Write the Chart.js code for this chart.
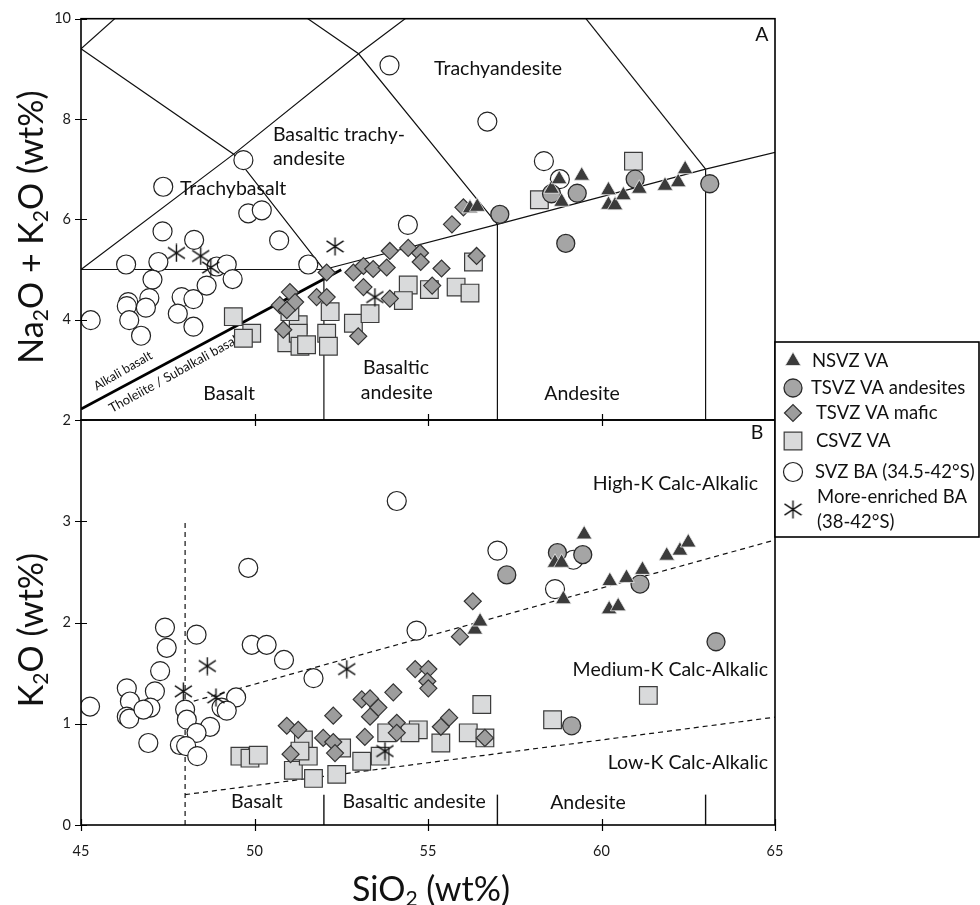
<!DOCTYPE html>
<html>
<head>
<meta charset="utf-8">
<title>SVZ volcanic rocks: TAS and K2O vs SiO2</title>
<script src="https://cdn.jsdelivr.net/npm/chart.js@4.4.1/dist/chart.umd.min.js"></script>
<style>
  html, body { margin: 0; background: #fff; }
  #fig { position: relative; width: 980px; height: 905px; font-family: Lato, "Open Sans", sans-serif; color: #111; overflow: hidden; }
  #fig canvas { position: absolute; left: 0; top: 0; }
  .axis-title { position: absolute; white-space: nowrap; font-size: 34px; line-height: 1; transform: translate(-50%, -50%); }
  .axis-title.vert { transform: translate(-50%, -50%) rotate(-90deg); }
  .axis-title sub { font-size: 62%; vertical-align: -0.25em; line-height: 0; }
</style>
</head>
<body>
<div id="fig">
  <canvas id="tas" width="980" height="905"></canvas>
  <canvas id="k2o" width="980" height="905"></canvas>
  <div class="axis-title vert" style="left:30px; top:227px">Na<sub>2</sub>O + K<sub>2</sub>O (wt%)</div>
  <div class="axis-title vert" style="left:30px; top:630px">K<sub>2</sub>O (wt%)</div>
  <div class="axis-title" style="left:431px; top:888px">SiO<sub>2</sub> (wt%)</div>
</div>
<script>
// axes
const SIO2_TICKS = [45, 50, 55, 60, 65];
const TAS_TICKS = [2, 4, 6, 8, 10];
const K2O_TICKS = [0, 1, 2, 3];

// legend entries (second line for the last one)
const seriesLabels = [
  ['NSVZ VA'],
  ['TSVZ VA andesites'],
  ['TSVZ VA mafic'],
  ['CSVZ VA'],
  ['SVZ BA (34.5-42°S)'],
  ['More-enriched BA', '(38-42°S)']
];

// [SiO2, Na2O+K2O] and [SiO2, K2O], wt%
const nsvzTAS = [[56.21,6.22],[56.42,6.25],[58.56,6.61],[58.78,6.80],[58.85,6.35],[59.43,6.87],[60.20,6.58],
  [60.20,6.29],[60.39,6.28],[60.63,6.48],[61.09,6.61],[61.83,6.67],[62.21,6.74],[62.41,7.00]];
const nsvzK2O = [[56.35,1.93],[56.50,2.01],[58.66,2.59],[58.85,2.59],[58.90,2.23],[59.50,2.87],[60.22,2.13],
  [60.48,2.16],[60.24,2.41],[60.72,2.44],[61.18,2.52],[61.88,2.66],[62.26,2.71],[62.50,2.79]];

const tsvzAndTAS = [[57.07,6.10],[58.56,6.51],[58.97,5.52],[59.30,6.52],[60.97,6.80],[63.12,6.71]];
const tsvzAndK2O = [[57.27,2.47],[58.73,2.69],[59.46,2.67],[61.11,2.38],[63.30,1.81],[59.14,0.98]];

const tsvzMafTAS = [[56.02,6.24],[55.69,5.90],[54.43,5.43],[54.77,5.33],[54.79,5.15],[55.39,5.02],[56.40,5.27],
  [55.12,4.68],[52.08,4.94],[52.85,4.94],[53.14,5.07],[53.42,5.01],[53.81,5.04],[53.90,5.37],[53.14,4.65],
  [53.90,4.42],[51.79,4.45],[52.08,4.45],[50.73,4.29],[51.02,4.55],[51.17,4.35],[50.93,4.19],[50.83,3.80],[52.99,3.67]];
const tsvzMafK2O = [[56.29,2.21],[55.92,1.86],[54.63,1.54],[55.01,1.54],[54.98,1.42],[55.01,1.35],[55.61,1.06],
  [55.37,0.97],[56.64,0.86],[54.00,1.31],[53.09,1.24],[53.33,1.25],[53.57,1.16],[53.33,1.07],[52.27,1.08],
  [54.10,1.01],[54.10,0.91],[53.18,0.87],[50.93,0.98],[51.26,0.94],[51.98,0.86],[52.27,0.82],[52.32,0.71],[51.04,0.70]];

const csvzTAS = [[60.92,7.16],[58.21,6.39],[56.31,5.15],[54.43,4.69],[55.04,4.60],[55.81,4.65],[56.21,4.53],
  [54.29,4.38],[49.39,4.06],[49.92,3.73],[49.68,3.63],[50.93,3.54],[51.26,3.90],[51.26,3.73],[51.31,3.47],
  [51.50,3.50],[52.18,4.16],[52.08,3.73],[52.13,3.47],[52.85,3.93],[53.33,4.12],[51.02,4.16]];
const csvzK2O = [[56.55,1.19],[61.35,1.28],[58.59,1.04],[54.72,0.94],[54.48,0.91],[55.37,0.81],[56.16,0.91],
  [56.64,0.86],[49.58,0.68],[49.87,0.66],[50.11,0.69],[51.12,0.54],[51.41,0.84],[51.55,0.68],[51.70,0.46],
  [52.37,0.50],[52.51,0.76],[53.09,0.63],[53.62,0.68],[53.81,0.91],[51.31,0.73]];

const svzBaTAS = [[53.89,9.07],[56.71,7.95],[58.34,7.16],[58.80,6.80],[49.68,7.18],[47.37,6.65],[49.82,6.12],
  [50.21,6.18],[54.42,5.89],[47.35,5.76],[48.26,5.59],[50.71,5.58],[46.30,5.10],[47.23,5.15],[48.91,5.06],
  [49.20,5.10],[49.37,4.81],[51.55,5.10],[47.06,4.80],[46.36,4.35],[46.32,4.27],[46.97,4.43],[46.87,4.24],
  [47.90,4.45],[48.24,4.41],[47.79,4.12],[48.62,4.68],[46.39,3.99],[45.28,3.99],[46.73,3.68],[48.24,3.86]];
const svzBaK2O = [[54.10,3.20],[49.82,2.54],[47.42,1.95],[48.33,1.88],[54.67,1.92],[57.00,2.71],[59.19,2.62],
  [58.66,2.33],[47.47,1.75],[49.92,1.78],[50.35,1.78],[50.85,1.63],[47.28,1.52],[51.70,1.45],[46.32,1.35],
  [47.13,1.32],[46.41,1.22],[47.00,1.16],[45.26,1.17],[46.32,1.07],[46.39,1.05],[46.80,1.14],[48.00,1.14],
  [48.05,1.04],[49.47,1.26],[49.05,1.16],[49.20,1.13],[48.72,0.97],[48.33,0.91],[47.85,0.79],[48.03,0.78],
  [46.94,0.81],[48.35,0.68]];

const enrichedTAS = [[47.75,5.33],[48.45,5.27],[48.74,5.04],[52.32,5.46],[53.47,4.45]];
const enrichedK2O = [[47.95,1.32],[48.64,1.57],[48.89,1.26],[52.66,1.54],[53.76,0.73]];

// TAS field boundaries (Le Bas et al.) and alkaline / subalkaline divide
const tasBoundaries = [
  [[45,9.4],[49.4,7.3],[52,5]],
  [[45,5],[49.4,7.3],[53,9.3],[57.6,11.7]],
  [[45,9.4],[48.4,11.5]],
  [[48.4,11.5],[53,9.3],[57,5.9]],
  [[45,5],[52,5],[52,2]],
  [[52,5],[57,5.9],[63,7],[69,8]],
  [[57,5.9],[57,2]],
  [[63,7],[63,2]],
  [[63,7],[57.6,11.7]]
];
const alkalineDivide = [[45,2.22],[52.5,4.995]];

// K2O series divides
const highKDivide = [[48,1.2],[65,2.815]];
const lowKDivide = [[48,0.3],[65,1.065]];
const basaltCutoff = [[48,0],[48,3]];
const rockTypeTicks = [[[52,0],[52,0.3]], [[57,0],[57,0.3]], [[63,0],[63,0.3]]];

const tasFieldLabels = [
  { text: 'A', x: 64.62, y: 9.69 },
  { text: 'Trachyandesite', x: 57.02, y: 9.0 },
  { text: 'Basaltic trachy-', x: 50.53, y: 7.69, align: 'left' },
  { text: 'andesite', x: 50.53, y: 7.20, align: 'left' },
  { text: 'Trachybasalt', x: 47.85, y: 6.61, align: 'left' },
  { text: 'Basalt', x: 49.27, y: 2.53 },
  { text: 'Basaltic', x: 54.08, y: 3.04 },
  { text: 'andesite', x: 54.10, y: 2.55 },
  { text: 'Andesite', x: 59.44, y: 2.53 },
  { text: 'Alkali basalt', x: 46.21, y: 2.98, size: 12.5, rot: -30 },
  { text: 'Tholeiite / Subalkali basalt', x: 45.89, y: 2.14, size: 13, rot: -29, align: 'left', baseline: 'alphabetic' }
];
const k2oFieldLabels = [
  { text: 'B', x: 64.48, y: 3.87 },
  { text: 'High-K Calc-Alkalic', x: 64.51, y: 3.37, align: 'right' },
  { text: 'Medium-K Calc-Alkalic', x: 64.80, y: 1.53, align: 'right' },
  { text: 'Low-K Calc-Alkalic', x: 64.80, y: 0.62, align: 'right' },
  { text: 'Basalt', x: 50.07, y: 0.23 },
  { text: 'Basaltic andesite', x: 54.6, y: 0.23 },
  { text: 'Andesite', x: 59.61, y: 0.22 }
];

function asteriskMark(size) {
  const c = document.createElement('canvas');
  c.width = c.height = size;
  const g = c.getContext('2d');
  const h = size / 2;
  g.strokeStyle = '#111';
  g.lineWidth = 1.4;
  g.beginPath();
  g.moveTo(h, 0.5); g.lineTo(h, size - 0.5);
  g.moveTo(1, h - 0.3 * size); g.lineTo(size - 1, h + 0.3 * size);
  g.moveTo(1, h + 0.3 * size); g.lineTo(size - 1, h - 0.3 * size);
  g.stroke();
  return c;
}

const markerStyles = [
  { pointStyle: 'triangle', radius: 9, fill: '#3b3b3b', stroke: '#ececec', width: 0.8 },
  { pointStyle: 'circle', radius: 9, fill: '#a5a5a5', stroke: '#2b2b2b', width: 1.3 },
  { pointStyle: 'rectRot', radius: 8.5, fill: '#9d9d9d', stroke: '#333333', width: 1.2 },
  { pointStyle: 'rect', radius: 12.5, fill: '#d9dadb', stroke: '#3c3c3c', width: 1.2 },
  { pointStyle: 'circle', radius: 9.5, fill: '#ffffff', stroke: '#222222', width: 1.2 },
  { pointStyle: asteriskMark(19), radius: 9, fill: 'rgba(0,0,0,0)', stroke: '#111', width: 0 }
];

const toPoints = arr => arr.map(([x, y]) => ({ x, y }));

function seriesDatasets(panel) {
  return panel.map((rows, i) => {
    const m = markerStyles[i];
    return {
      label: seriesLabels[i].join(' '),
      data: toPoints(rows),
      pointStyle: m.pointStyle,
      pointRadius: m.radius,
      pointBackgroundColor: m.fill,
      pointBorderColor: m.stroke,
      pointBorderWidth: m.width,
      backgroundColor: m.fill,
      borderColor: m.stroke,
      order: i === 5 ? -1 : 0
    };
  });
}

function lineDataset(rows, extra) {
  return Object.assign({
    data: toPoints(rows),
    showLine: true,
    pointRadius: 0,
    borderColor: '#111',
    borderWidth: 1.2,
    fill: false,
    order: 10
  }, extra || {});
}

// frame, crossing tick marks and field names
const panelDecor = {
  id: 'panelDecor',
  beforeDatasetsDraw(chart, args, opts) {
    const { ctx } = chart;
    const xs = chart.scales.x, ys = chart.scales.y;
    ctx.save();
    ctx.fillStyle = '#111';
    opts.labels.forEach(l => {
      ctx.save();
      ctx.font = (l.size || 19.5) + 'px Lato';
      ctx.textAlign = l.align || 'center';
      ctx.textBaseline = l.baseline || 'middle';
      ctx.translate(xs.getPixelForValue(l.x), ys.getPixelForValue(l.y));
      if (l.rot) ctx.rotate(l.rot * Math.PI / 180);
      ctx.fillText(l.text, 0, 0);
      ctx.restore();
    });
    ctx.restore();
  },
  afterDraw(chart, args, opts) {
    const { ctx, chartArea: a } = chart;
    const xs = chart.scales.x, ys = chart.scales.y;
    ctx.save();
    ctx.strokeStyle = '#000';
    ctx.lineWidth = 1.6;
    ctx.strokeRect(a.left, a.top, a.right - a.left, a.bottom - a.top);
    ctx.lineWidth = 1.2;
    ctx.beginPath();
    opts.xTicks.forEach(v => {
      const px = Math.round(xs.getPixelForValue(v)) + 0.5;
      ctx.moveTo(px, a.bottom - 6); ctx.lineTo(px, a.bottom + 6);
    });
    opts.yTicks.forEach(v => {
      const py = Math.round(ys.getPixelForValue(v)) + 0.5;
      ctx.moveTo(a.left - 6, py); ctx.lineTo(a.left + 6, py);
    });
    ctx.stroke();
    ctx.restore();
  }
};

// boxed key to the right of the lower panel
const sideLegend = {
  id: 'sideLegend',
  afterDraw(chart, args, opts) {
    const { ctx, chartArea: a } = chart;
    const left = a.right, top = opts.top, w = chart.width - a.right, h = opts.height;
    ctx.save();
    ctx.fillStyle = '#fff';
    ctx.fillRect(left, top, w, h);
    ctx.strokeStyle = '#000';
    ctx.lineWidth = 1.6;
    ctx.strokeRect(left, top, w - 1, h);
    ctx.font = opts.fontSize + 'px Lato';
    ctx.textBaseline = 'middle';
    ctx.textAlign = 'left';
    chart.data.datasets.slice(0, seriesLabels.length).forEach((ds, i) => {
      const m = markerStyles[i];
      const lines = seriesLabels[i];
      const y0 = top + opts.rows[i];
      const symY = y0 + (lines.length - 1) * opts.lineGap / 2;
      ctx.fillStyle = m.fill;
      ctx.strokeStyle = m.stroke;
      ctx.lineWidth = m.width;
      Chart.helpers.drawPoint(ctx, { pointStyle: m.pointStyle, radius: m.radius, borderWidth: m.width, rotation: 0 }, left + opts.symbolX, symY);
      ctx.fillStyle = '#111';
      const maxW = w - opts.textX[i] - 5;
      lines.forEach((t, k) => ctx.fillText(t, left + opts.textX[i], y0 + k * opts.lineGap, maxW));
    });
    ctx.restore();
  }
};

const tickFont = { family: 'Lato', size: 14.5 };

function yScale(min, max, ticks) {
  return {
    type: 'linear', min, max,
    afterBuildTicks: s => { s.ticks = ticks.map(v => ({ value: v })); },
    afterFit: s => { s.width = 30; },
    grid: { display: false, drawTicks: false },
    border: { display: false },
    ticks: { padding: 10, color: '#1a1a1a', font: tickFont }
  };
}

new Chart(document.getElementById('tas'), {
  type: 'scatter',
  data: {
    datasets: [
      ...seriesDatasets([nsvzTAS, tsvzAndTAS, tsvzMafTAS, csvzTAS, svzBaTAS, enrichedTAS]),
      ...tasBoundaries.map(b => lineDataset(b)),
      lineDataset(alkalineDivide, { borderWidth: 2.8, borderColor: '#000' })
    ]
  },
  options: {
    responsive: false, animation: false, events: [],
    layout: { padding: { left: 51, right: 205, top: 12, bottom: 485 } },
    plugins: {
      legend: { display: false }, tooltip: { enabled: false },
      panelDecor: { labels: tasFieldLabels, xTicks: [50, 55, 60], yTicks: TAS_TICKS }
    },
    scales: {
      x: { type: 'linear', min: 45, max: 65, display: false },
      y: yScale(2, 10, TAS_TICKS)
    }
  },
  plugins: [panelDecor]
});

new Chart(document.getElementById('k2o'), {
  type: 'scatter',
  data: {
    datasets: [
      ...seriesDatasets([nsvzK2O, tsvzAndK2O, tsvzMafK2O, csvzK2O, svzBaK2O, enrichedK2O]),
      lineDataset(highKDivide, { borderDash: [5, 4] }),
      lineDataset(lowKDivide, { borderDash: [5, 4] }),
      lineDataset(basaltCutoff, { borderDash: [5, 4] }),
      ...rockTypeTicks.map(t => lineDataset(t, { borderWidth: 1.4 }))
    ]
  },
  options: {
    responsive: false, animation: false, events: [],
    layout: { padding: { left: 51, right: 205, top: 420, bottom: 45 } },
    plugins: {
      legend: { display: false }, tooltip: { enabled: false },
      panelDecor: { labels: k2oFieldLabels, xTicks: SIO2_TICKS, yTicks: K2O_TICKS },
      sideLegend: { top: 342, height: 195, symbolX: 18, textX: [37, 36, 41, 41, 40, 42],
        rows: [19, 46, 71, 99, 130, 155], lineGap: 25, fontSize: 18.5 }
    },
    scales: {
      x: {
        type: 'linear', min: 45, max: 65,
        afterBuildTicks: s => { s.ticks = SIO2_TICKS.map(v => ({ value: v })); },
        afterFit: s => { s.height = 35; },
        grid: { display: false, drawTicks: false },
        border: { display: false },
        ticks: { padding: 18, color: '#1a1a1a', font: tickFont }
      },
      y: yScale(0, 4, K2O_TICKS)
    }
  },
  plugins: [panelDecor, sideLegend]
});
</script>
</body>
</html>
